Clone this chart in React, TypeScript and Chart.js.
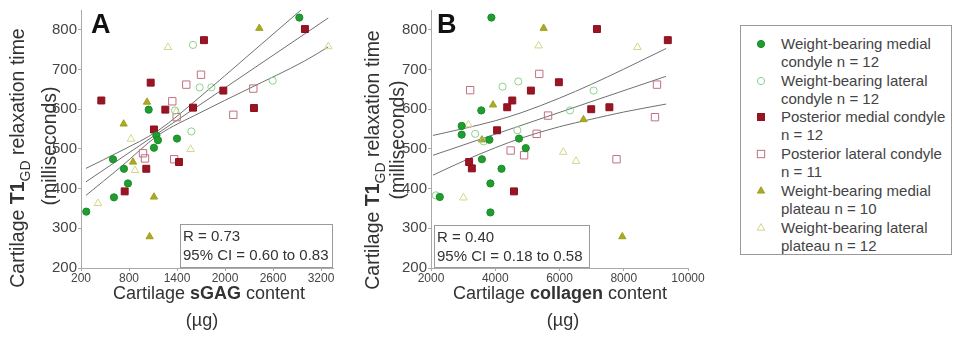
import React, { useEffect, useRef } from 'react';
import { Chart, registerables } from 'chart.js';

Chart.register(...registerables);

type Pt = [number, number];

// ---------- Panel A : sGAG content (µg) vs T1GD (ms) ----------
const sgagWbMedialCondyle: Pt[] = [
  [2929, 831], [1046, 599], [1142, 534], [1162, 522], [1112, 503], [1400, 526],
  [600, 474], [737, 450], [787, 413], [612, 378], [266, 342],
];
const sgagWbLateralCondyle: Pt[] = [
  [1600, 762], [2596, 672], [1579, 544], [1683, 655], [1830, 655], [1375, 597],
];
const sgagPosteriorMedial: Pt[] = [
  [1737, 774], [1071, 667], [454, 622], [1254, 599], [1600, 604], [1112, 549],
  [1425, 467], [1016, 450], [746, 393], [2999, 802], [1979, 647], [2362, 603],
];
const sgagPosteriorLateral: Pt[] = [
  [1516, 662], [1700, 687], [1341, 620], [1396, 580], [2354, 652], [2104, 586],
  [1365, 474], [975, 489], [1000, 476],
];
const sgagWbMedialPlateau: Pt[] = [
  [2429, 804], [1025, 618], [1112, 379], [1058, 279], [850, 467], [733, 563],
];
const sgagWbLateralPlateau: Pt[] = [
  [3291, 758], [1287, 756], [1570, 499], [825, 525], [412, 363], [1391, 594], [875, 446],
];
const sgagFit: Pt[] = [[262, 417], [3291, 830]];
const sgagFitUpper: Pt[] = [[262, 451], [700, 495], [1162, 546], [1687, 631], [2300, 737], [2990, 857]];
const sgagFitLower: Pt[] = [[262, 383], [700, 455], [1162, 534], [1687, 591], [2300, 652], [2990, 721], [3291, 757]];

// ---------- Panel B : collagen content (µg) vs T1GD (ms) ----------
const collagenWbMedialCondyle: Pt[] = [
  [3880, 831], [3565, 597], [2955, 558], [2955, 536], [3817, 523], [4740, 526],
  [4950, 502], [3585, 474], [4195, 450], [3849, 413], [3849, 340], [2274, 379],
];
const collagenWbLateralCondyle: Pt[] = [
  [4718, 670], [4227, 657], [3376, 538], [2150, 383], [7061, 647], [6325, 597], [4688, 547], [3638, 519],
];
const collagenPosteriorMedial: Pt[] = [
  [5109, 647], [5980, 668], [4530, 622], [4372, 605], [4057, 547], [3187, 467],
  [3271, 451], [4583, 393], [7166, 802], [9371, 774], [6987, 600], [7553, 605],
];
const collagenPosteriorLateral: Pt[] = [
  [3219, 648], [5370, 689], [4479, 496], [4898, 484], [5289, 538], [9034, 662],
  [8972, 580], [7775, 474], [5644, 584],
];
const collagenWbMedialPlateau: Pt[] = [
  [5506, 804], [3931, 611], [6747, 574], [7954, 279], [3585, 523],
];
const collagenWbLateralPlateau: Pt[] = [
  [8426, 756], [5349, 760], [3165, 561], [3008, 377], [6117, 492], [6515, 469],
];
const collagenFit: Pt[] = [[2063, 484], [9318, 683]];
const collagenFitUpper: Pt[] = [[2063, 534], [3000, 551], [4000, 571], [4839, 592], [6000, 628], [7000, 663], [8000, 701], [9318, 753]];
const collagenFitLower: Pt[] = [[2063, 434], [3000, 469], [4000, 503], [4839, 528], [6000, 556], [7000, 575], [8000, 593], [9318, 613]];

// ---------- ticks & labels ----------
const sgagTicks = [200, 800, 1400, 2000, 2600, 3200];
const collagenTicks = [2000, 4000, 6000, 8000, 10000];
const t1Ticks = [200, 300, 400, 500, 600, 700, 800];

const legendLabels: string[][] = [
  ['Weight-bearing medial', 'condyle n = 12'],
  ['Weight-bearing lateral', 'condyle n = 12'],
  ['Posterior medial condyle', 'n = 12'],
  ['Posterior lateral condyle', 'n = 11'],
  ['Weight-bearing medial', 'plateau n = 10'],
  ['Weight-bearing lateral', 'plateau n = 12'],
];

const FONT = '"Liberation Sans", Arial, Helvetica, sans-serif';

type Style = { shape: 'circle' | 'rect' | 'triangle'; fill: string; stroke: string; r: number };
const seriesStyles: Style[] = [
  { shape: 'circle', fill: '#1f9e2f', stroke: '#1a8a28', r: 3.6 },
  { shape: 'circle', fill: 'rgba(255,255,255,0)', stroke: '#8fd08f', r: 3.6 },
  { shape: 'rect', fill: '#9b1422', stroke: '#8a1020', r: 4.9 },
  { shape: 'rect', fill: 'rgba(255,255,255,0)', stroke: '#c07080', r: 5.2 },
  { shape: 'triangle', fill: '#abab22', stroke: '#a0a020', r: 4.2 },
  { shape: 'triangle', fill: 'rgba(255,255,255,0)', stroke: '#d6d68c', r: 4.4 },
];

type Run = { t: string; bold?: boolean; sub?: boolean };

function drawRuns(ctx: CanvasRenderingContext2D, runs: Run[], cx: number, cy: number, size: number, rotate: boolean) {
  ctx.save();
  ctx.translate(cx, cy);
  if (rotate) ctx.rotate(-Math.PI / 2);
  const fontFor = (r: Run) => `${r.bold ? 'bold ' : ''}${r.sub ? Math.round(size * 0.72) : size}px ${FONT}`;
  let total = 0;
  const widths = runs.map((r) => {
    ctx.font = fontFor(r);
    const w = ctx.measureText(r.t).width;
    total += w;
    return w;
  });
  let x = -total / 2;
  ctx.textBaseline = 'alphabetic';
  ctx.textAlign = 'left';
  ctx.fillStyle = '#333';
  runs.forEach((r, i) => {
    ctx.font = fontFor(r);
    ctx.fillText(r.t, x, size * 0.36 + (r.sub ? size * 0.3 : 0));
    x += widths[i];
  });
  ctx.restore();
}

type PanelCfg = {
  series: Pt[][];
  lines: Pt[][];
  xTicks: number[];
  xMin: number;
  xMax: number;
  yAxisWidth: number;
  padRight: number;
  letter: string;
  letterX: number;
  yTitle1: [number, number];
  yTitle2: [number, number];
  xTitleRuns: Run[];
  xTitle1: [number, number];
  xTitle2: [number, number];
  box: [number, number, number, number];
  rText: string[];
};

function makeChart(canvas: HTMLCanvasElement, p: PanelCfg) {
  const pointSets = p.series.map((pts, i) => {
    const s = seriesStyles[i];
    return {
      data: pts.map(([x, y]) => ({ x, y })),
      pointStyle: s.shape,
      pointRadius: s.r,
      pointBackgroundColor: s.fill,
      pointBorderColor: s.stroke,
      pointBorderWidth: 1,
      showLine: false,
    };
  });
  const lineSets = p.lines.map((pts) => ({
    data: pts.map(([x, y]) => ({ x, y })),
    showLine: true,
    pointRadius: 0,
    borderColor: '#707070',
    borderWidth: 1,
    cubicInterpolationMode: 'monotone',
    fill: false,
  }));

  const decor = {
    id: 'decor',
    afterDraw(chart: any) {
      const ctx: CanvasRenderingContext2D = chart.ctx;
      ctx.save();
      ctx.font = `bold 27px ${FONT}`;
      ctx.fillStyle = '#111';
      ctx.textBaseline = 'alphabetic';
      ctx.fillText(p.letter, p.letterX, 33);
      ctx.restore();
      drawRuns(ctx, [{ t: 'Cartilage ' }, { t: 'T1', bold: true }, { t: 'GD', sub: true }, { t: ' relaxation time' }], p.yTitle1[0], p.yTitle1[1], 19.5, true);
      drawRuns(ctx, [{ t: '(milliseconds)' }], p.yTitle2[0], p.yTitle2[1], 19.5, true);
      drawRuns(ctx, p.xTitleRuns, p.xTitle1[0], p.xTitle1[1], 18, false);
      drawRuns(ctx, [{ t: '(µg)' }], p.xTitle2[0], p.xTitle2[1], 18, false);
      const [l, t, r, b] = p.box;
      ctx.save();
      ctx.fillStyle = '#ffffff';
      ctx.fillRect(l, t, r - l, b - t);
      ctx.strokeStyle = '#9a9a9a';
      ctx.lineWidth = 1;
      ctx.strokeRect(l + 0.5, t + 0.5, r - l - 1, b - t - 1);
      ctx.fillStyle = '#333';
      ctx.font = `15px ${FONT}`;
      ctx.textBaseline = 'middle';
      ctx.fillText(p.rText[0], l + 3, t + 13);
      ctx.fillText(p.rText[1], l + 3, t + 32);
      ctx.restore();
    },
  };

  return new Chart(canvas, {
    type: 'scatter',
    data: { datasets: [...pointSets, ...lineSets] as any },
    options: {
      animation: false,
      responsive: false,
      maintainAspectRatio: false,
      layout: { padding: { left: 0, right: p.padRight, top: 10, bottom: 0 } },
      plugins: { legend: { display: false }, tooltip: { enabled: false } },
      scales: {
        x: {
          type: 'linear',
          min: p.xMin,
          max: p.xMax,
          afterBuildTicks: (s: any) => { s.ticks = p.xTicks.map((v) => ({ value: v })); },
          afterFit: (s: any) => { s.height = 74; },
          grid: { drawOnChartArea: false, drawTicks: true, tickLength: 3, color: '#aaaaaa' },
          border: { display: true, color: '#aaaaaa' },
          ticks: { autoSkip: false, maxRotation: 0, padding: 0, color: '#444', font: { family: FONT, size: 12 }, callback: (v: any) => String(v) },
        },
        y: {
          type: 'linear',
          min: 200,
          max: 850,
          afterBuildTicks: (s: any) => { s.ticks = t1Ticks.map((v) => ({ value: v })); },
          afterFit: (s: any) => { s.width = p.yAxisWidth; },
          grid: { drawOnChartArea: false, drawTicks: true, tickLength: 3, color: '#aaaaaa' },
          border: { display: true, color: '#aaaaaa' },
          ticks: { autoSkip: false, padding: 1, color: '#444', font: { family: FONT, size: 15 }, callback: (v: any) => String(v) },
        },
      },
    } as any,
    plugins: [decor],
  });
}

const panelA: PanelCfg = {
  series: [sgagWbMedialCondyle, sgagWbLateralCondyle, sgagPosteriorMedial, sgagPosteriorLateral, sgagWbMedialPlateau, sgagWbLateralPlateau],
  lines: [sgagFit, sgagFitUpper, sgagFitLower],
  xTicks: sgagTicks,
  xMin: 200,
  xMax: 3350,
  yAxisWidth: 81,
  padRight: 12,
  letter: 'A',
  letterX: 91,
  yTitle1: [17, 158],
  yTitle2: [49, 146],
  xTitleRuns: [{ t: 'Cartilage ' }, { t: 'sGAG', bold: true }, { t: ' content' }],
  xTitle1: [209, 293],
  xTitle2: [202, 320],
  box: [180, 224, 333, 268],
  rText: ['R = 0.73', '95% CI = 0.60 to 0.83'],
};

const panelB: PanelCfg = {
  series: [collagenWbMedialCondyle, collagenWbLateralCondyle, collagenPosteriorMedial, collagenPosteriorLateral, collagenWbMedialPlateau, collagenWbLateralPlateau],
  lines: [collagenFit, collagenFitUpper, collagenFitLower],
  xTicks: collagenTicks,
  xMin: 2000,
  xMax: 10000,
  yAxisWidth: 91,
  padRight: 32,
  letter: 'B',
  letterX: 97,
  yTitle1: [32, 160],
  yTitle2: [57, 140],
  xTitleRuns: [{ t: 'Cartilage ' }, { t: 'collagen', bold: true }, { t: ' content' }],
  xTitle1: [220, 293],
  xTitle2: [223, 320],
  box: [94, 225, 250, 268],
  rText: ['R = 0.40', '95% CI = 0.18 to 0.58'],
};

function Marker({ s }: { s: Style }) {
  const c = 8;
  let shape: React.ReactNode = null;
  if (s.shape === 'circle') shape = <circle cx={c} cy={c} r={s.r} fill={s.fill} stroke={s.stroke} strokeWidth={1} />;
  else if (s.shape === 'rect') {
    const h = s.r * Math.SQRT1_2;
    shape = <rect x={c - h} y={c - h} width={2 * h} height={2 * h} fill={s.fill} stroke={s.stroke} strokeWidth={1} />;
  } else {
    const r = s.r;
    const pts = [0, 1, 2].map((k) => {
      const a = (k * 2 * Math.PI) / 3;
      return `${c + Math.sin(a) * r},${c - Math.cos(a) * r}`;
    }).join(' ');
    shape = <polygon points={pts} fill={s.fill} stroke={s.stroke} strokeWidth={1} />;
  }
  return <svg width={16} height={16} style={{ position: 'absolute', left: 12, top: -8 }}>{shape}</svg>;
}

export default function App() {
  const refA = useRef<HTMLCanvasElement>(null);
  const refB = useRef<HTMLCanvasElement>(null);
  useEffect(() => {
    const a = makeChart(refA.current!, panelA);
    const b = makeChart(refB.current!, panelB);
    return () => { a.destroy(); b.destroy(); };
  }, []);
  return (
    <div style={{ position: 'absolute', left: 0, top: 0, width: 954, height: 342, background: '#fff', overflow: 'hidden' }}>
      <canvas ref={refA} width={345} height={342} style={{ position: 'absolute', left: 0, top: 0, width: 345, height: 342 }} />
      <canvas ref={refB} width={380} height={342} style={{ position: 'absolute', left: 340, top: 0, width: 380, height: 342 }} />
      <div style={{ position: 'absolute', left: 740, top: 25, width: 212, height: 230, border: '1px solid #999', boxSizing: 'border-box', fontFamily: FONT, fontSize: 15, color: '#444' }}>
        {legendLabels.map((lines, i) => (
          <div key={i} style={{ position: 'absolute', left: 0, top: 18 + i * 36.7, width: 210 }}>
            <Marker s={seriesStyles[i]} />
            <div style={{ position: 'absolute', left: 40, top: -9, lineHeight: '18px', whiteSpace: 'nowrap' }}>
              {lines[0]}<br />{lines[1]}
            </div>
          </div>
        ))}
      </div>
    </div>
  );
}
